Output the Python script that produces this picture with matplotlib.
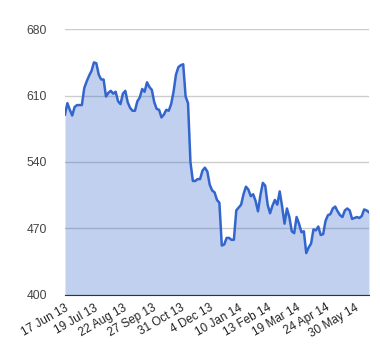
import matplotlib
matplotlib.use("Agg")
import matplotlib.pyplot as plt
import numpy as np

plt.rcParams['font.family'] = ['Liberation Sans', 'DejaVu Sans']

# price, one point every ~2 trading days
prices = [
    590, 602, 595, 589, 598, 600, 600, 600, 618, 625,
    631, 636, 645, 644, 632, 627, 627, 609, 613, 615,
    612, 614, 604, 601, 612, 615, 603, 597, 594, 594,
    604, 608, 617, 614, 624, 619, 616, 603, 596, 595,
    587, 590, 595, 594, 601, 614, 632, 640, 642, 643,
    609, 602, 540, 520, 520, 522, 522, 531, 534, 530,
    516, 510, 508, 500, 497, 452, 453, 460, 460, 458,
    458, 489, 492, 495, 506, 514, 511, 504, 506, 499,
    488, 505, 518, 515, 495, 486, 494, 500, 495, 509,
    493, 475, 491, 482, 467, 465, 482, 475, 466, 467,
    444, 450, 454, 469, 468, 472, 463, 464, 478, 484,
    485, 491, 493, 488, 484, 482, 489, 491, 489, 480,
    481, 482, 481, 483, 490, 489, 487,
]
date_labels = ['17 Jun 13', '19 Jul 13', '22 Aug 13', '27 Sep 13', '31 Oct 13',
               '4 Dec 13', '10 Jan 14', '13 Feb 14', '19 Mar 14', '24 Apr 14',
               '30 May 14']
y_ticks = [400, 470, 540, 610, 680]
label_every = 12

x = np.arange(len(prices))

fig = plt.figure(figsize=(3.8, 3.6), dpi=100)
ax = fig.add_axes([0.171, 0.181, 0.8, 0.738])

ax.fill_between(x, 400, prices, color='#3366cc', alpha=0.3, linewidth=0, zorder=2)
ax.plot(x, prices, color='#3366cc', linewidth=1.8, zorder=3)

ax.set_xlim(0, len(prices) - 1)
ax.set_ylim(400, 680)
ax.set_yticks(y_ticks)
ax.set_yticklabels([str(v) for v in y_ticks], color='#444444', fontsize=8.7)
ax.set_xticks(x[::label_every][:len(date_labels)])
ax.set_xticklabels(date_labels, rotation=30, ha='right', rotation_mode='anchor',
                   fontsize=8.5, color='#222222')

ax.grid(axis='y', color='#cccccc', linewidth=1, zorder=1)
ax.set_axisbelow(True)
ax.tick_params(axis='both', length=0)
ax.tick_params(axis='y', pad=13)
ax.tick_params(axis='x', pad=5)
for side in ['top', 'right', 'left']:
    ax.spines[side].set_visible(False)
ax.spines['bottom'].set_color('#333333')
ax.spines['bottom'].set_zorder(4)

fig.savefig('out.png', dpi=100)
